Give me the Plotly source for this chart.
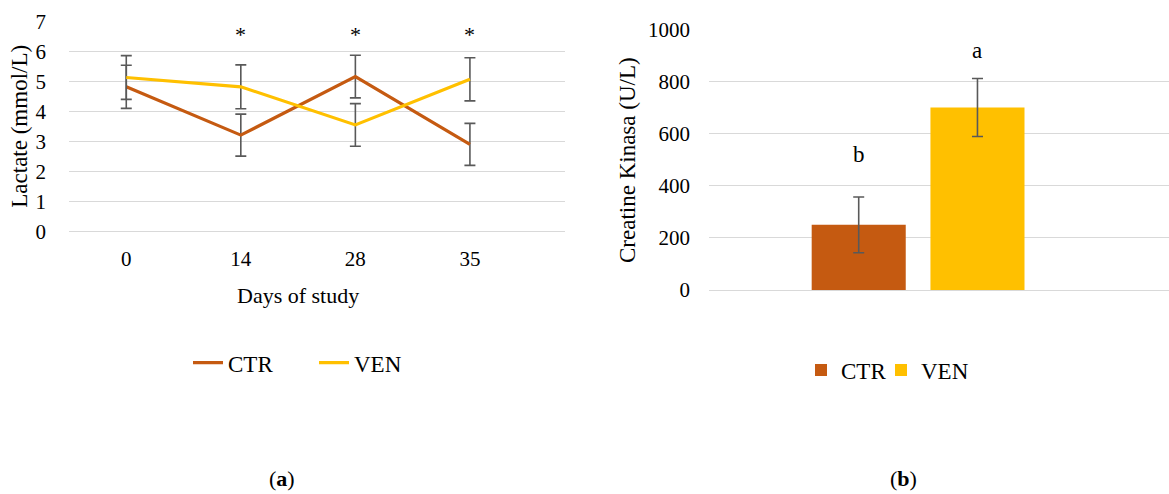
import plotly.graph_objects as go

# ---- Data ----
days = ["0", "14", "28", "35"]
ctr_lactate = [4.83, 3.22, 5.17, 2.91]
ctr_lactate_err = [0.72, 0.70, 0.71, 0.70]
ven_lactate = [5.14, 4.83, 3.56, 5.08]
ven_lactate_err = [0.73, 0.73, 0.71, 0.72]
sig_days = ["14", "28", "35"]
sig_marks = ["*", "*", "*"]

ck_group = ["CK"]
ctr_ck = [250]
ctr_ck_err = [107]
ven_ck = [700]
ven_ck_err = [111]
ck_letters = ["b", "a"]
ck_letter_y = [518, 918]

C_CTR = "#C55A11"
C_VEN = "#FFC000"
C_ERR = "#595959"
C_GRID = "#D9D9D9"
FONT = "Liberation Serif, Times New Roman, DejaVu Serif, serif"
W, H = 1169, 494

def px_x(x):
    return x / W

def px_y(y):
    return 1 - y / H

fig = go.Figure()

err_style = dict(type="data", color=C_ERR, thickness=1.6, width=5.5, visible=True)

fig.add_trace(go.Scatter(
    x=days, y=ctr_lactate, name="CTR", mode="lines",
    line=dict(color=C_CTR, width=3.2),
    error_y=dict(array=ctr_lactate_err, **err_style),
    xaxis="x", yaxis="y", legend="legend"))
fig.add_trace(go.Scatter(
    x=days, y=ven_lactate, name="VEN", mode="lines",
    line=dict(color=C_VEN, width=3.2),
    error_y=dict(array=ven_lactate_err, **err_style),
    xaxis="x", yaxis="y", legend="legend"))

fig.add_trace(go.Bar(
    x=ck_group, y=ctr_ck, name="CTR", marker=dict(color=C_CTR, line=dict(width=0)),
    error_y=dict(array=ctr_ck_err, **err_style),
    xaxis="x2", yaxis="y2", legend="legend2"))
fig.add_trace(go.Bar(
    x=ck_group, y=ven_ck, name="VEN", marker=dict(color=C_VEN, line=dict(width=0)),
    error_y=dict(array=ven_ck_err, **err_style),
    xaxis="x2", yaxis="y2", legend="legend3"))

tickfont = dict(family=FONT, size=21, color="#000000")
legfont = dict(family=FONT, size=23, color="#000000")

fig.update_layout(
    width=W, height=H,
    margin=dict(l=0, r=0, t=0, b=0, autoexpand=False),
    paper_bgcolor="white", plot_bgcolor="white",
    font=dict(family=FONT, size=22, color="#000000"),
    barmode="group", bargap=0.432, bargroupgap=0.208,
    xaxis=dict(domain=[px_x(69), px_x(565)], type="category",
               categoryorder="array", categoryarray=days,
               range=[-0.5, 3.83], showgrid=False, zeroline=False,
               showline=False, ticks="", tickfont=tickfont,
               ticklabelstandoff=12, anchor="y", automargin=False),
    yaxis=dict(domain=[px_y(231.7), px_y(21.7)], range=[0, 7],
               dtick=1, showgrid=True, gridcolor=C_GRID, gridwidth=1.3,
               zeroline=True, zerolinecolor=C_GRID, zerolinewidth=1.3,
               showline=False, ticks="",
               tickfont=tickfont, ticklabelstandoff=22, anchor="x",
               automargin=False),
    xaxis2=dict(domain=[px_x(709), 1.0], type="category",
                range=[-0.5, 0.6], showgrid=False, zeroline=False,
                showline=False, ticks="", showticklabels=False, anchor="y2",
                automargin=False),
    yaxis2=dict(domain=[px_y(290), px_y(29.3)], range=[0, 1000],
                dtick=200, showgrid=True, gridcolor=C_GRID, gridwidth=1.3,
                zeroline=True, zerolinecolor=C_GRID, zerolinewidth=1.3,
                showline=False, ticks="",
                tickfont=tickfont, ticklabelstandoff=18, anchor="x2",
                automargin=False),
    legend=dict(orientation="h", x=px_x(188), y=px_y(362.7),
                xanchor="left", yanchor="middle", font=legfont,
                bgcolor="rgba(0,0,0,0)", itemwidth=30, traceorder="normal",
                entrywidth=81, entrywidthmode="pixels"),
    legend2=dict(orientation="h", x=px_x(801), y=px_y(370),
                 xanchor="left", yanchor="middle", font=legfont,
                 bgcolor="rgba(0,0,0,0)"),
    legend3=dict(orientation="h", x=px_x(881), y=px_y(370),
                 xanchor="left", yanchor="middle", font=legfont,
                 bgcolor="rgba(0,0,0,0)"),
    showlegend=True,
)

annotations = []
for d, m in zip(sig_days, sig_marks):
    annotations.append(dict(x=days.index(d), y=6.58, xref="x", yref="y", text=m,
                            xanchor="center", yanchor="middle",
                            showarrow=False, font=dict(family=FONT, size=22)))

# letters above bars, positioned over each bar's group offset
annotations.append(dict(x=-0.142, y=ck_letter_y[0], xref="x2", yref="y2",
                        text=ck_letters[0], showarrow=False,
                        xanchor="center", yanchor="middle",
                        font=dict(family=FONT, size=23)))
annotations.append(dict(x=0.142, y=ck_letter_y[1], xref="x2", yref="y2",
                        text=ck_letters[1], showarrow=False,
                        xanchor="center", yanchor="middle",
                        font=dict(family=FONT, size=23)))

# axis titles
annotations.append(dict(x=px_x(20), y=px_y(126.7), xref="paper", yref="paper",
                        text="Lactate (mmol/L)", textangle=-90, showarrow=False,
                        xanchor="center", yanchor="middle",
                        font=dict(family=FONT, size=23)))
annotations.append(dict(x=px_x(298), y=px_y(295), xref="paper", yref="paper",
                        text="Days of study", showarrow=False,
                        xanchor="center", yanchor="middle",
                        font=dict(family=FONT, size=22)))
annotations.append(dict(x=px_x(628), y=px_y(160), xref="paper", yref="paper",
                        text="Creatine Kinasa (U/L)", textangle=-90, showarrow=False,
                        xanchor="center", yanchor="middle",
                        font=dict(family=FONT, size=23)))
# panel captions
annotations.append(dict(x=px_x(281.5), y=px_y(478), xref="paper", yref="paper",
                        text="(<b>a</b>)", showarrow=False,
                        xanchor="center", yanchor="middle",
                        font=dict(family=FONT, size=22)))
annotations.append(dict(x=px_x(903), y=px_y(478), xref="paper", yref="paper",
                        text="(<b>b</b>)", showarrow=False,
                        xanchor="center", yanchor="middle",
                        font=dict(family=FONT, size=22)))

fig.update_layout(annotations=annotations)

fig.write_html("out.html")
